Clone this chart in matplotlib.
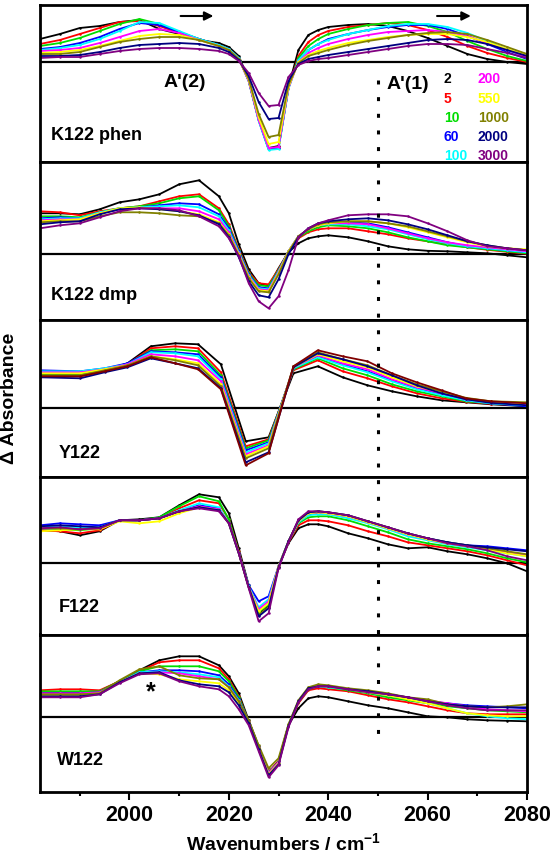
import matplotlib
matplotlib.use('Agg')
import matplotlib.pyplot as plt
import matplotlib.transforms as mtransforms
from matplotlib.lines import Line2D
from matplotlib.ticker import MultipleLocator

plt.rcParams['font.family'] = ['Liberation Sans', 'DejaVu Sans']
plt.rcParams['font.weight'] = 'bold'
plt.rcParams['mathtext.fontset'] = 'custom'
plt.rcParams['mathtext.rm'] = 'Liberation Sans:bold'
plt.rcParams['mathtext.default'] = 'rm'

# ---------------- data ----------------
delays = ['2', '5', '10', '60', '100', '200', '550', '1000', '2000', '3000']
colors = ['#000000', '#ff0000', '#00dd00', '#0000ff', '#00ffff',
          '#ff00ff', '#ffff00', '#808000', '#000080', '#800080']
colors_y122 = colors[:9] + ['#800000']

wn = [1982, 1986, 1990, 1994, 1998, 2002, 2006, 2010, 2014, 2018, 2020, 2022,
      2024, 2026, 2028, 2030, 2032, 2034, 2036, 2038, 2040, 2044, 2048, 2052,
      2056, 2060, 2064, 2068, 2072, 2076, 2080]
wn_y122 = [1982.0, 1990.1, 1995.0, 1999.6, 2004.3, 2009.2, 2013.8, 2018.4,
           2023.4, 2028.0, 2033.0, 2037.9, 2042.9, 2047.9, 2052.8, 2057.8,
           2062.8, 2067.7, 2072.7, 2080.0]

k122_phen = [
    [23, 28, 34, 36, 40, 42, 33, 28, 22, 19, 15, 6, -18, -57, -86, -84, -25, 12, 27, 32, 35, 37, 38, 36, 31, 24, 16, 8, 3, 0, -2],
    [18, 22, 28, 34, 40, 41, 36, 29, 23, 17, 13, 4, -19, -58, -87, -85, -26, 6, 20, 27, 31, 35, 37, 39, 37, 32, 25, 16, 9, 4, 0],
    [16, 19, 24, 31, 38, 43, 38, 30, 23, 17, 13, 4, -19, -58, -87, -86, -26, 4, 16, 23, 28, 33, 37, 39, 40, 36, 30, 21, 13, 6, 1],
    [13, 15, 19, 25, 33, 39, 37, 30, 23, 17, 13, 4, -19, -58, -87, -86, -26, 2, 12, 18, 23, 28, 32, 35, 37, 37, 33, 26, 18, 10, 3],
    [12, 14, 17, 23, 31, 40, 39, 31, 23, 17, 13, 4, -19, -59, -88, -87, -27, 2, 12, 18, 22, 28, 32, 36, 38, 38, 35, 29, 21, 12, 4],
    [11, 12, 14, 19, 25, 31, 33, 29, 22, 16, 12, 3, -19, -58, -86, -85, -26, 0, 9, 14, 18, 23, 27, 30, 31, 32, 30, 26, 19, 12, 5],
    [9, 10, 12, 16, 21, 26, 28, 27, 22, 16, 12, 3, -18, -55, -82, -80, -25, 0, 7, 11, 14, 19, 22, 25, 27, 28, 28, 25, 20, 13, 7],
    [8, 8, 10, 15, 20, 23, 25, 25, 22, 16, 12, 3, -17, -52, -75, -73, -23, -1, 6, 9, 12, 17, 21, 24, 27, 29, 30, 28, 22, 15, 8],
    [6, 6, 7, 10, 14, 17, 18, 19, 18, 14, 10, 2, -14, -40, -57, -56, -19, -2, 3, 5, 7, 10, 13, 16, 19, 22, 23, 22, 18, 12, 6],
    [4, 5, 5, 8, 11, 13, 14, 14, 13, 11, 8, 1, -11, -31, -44, -43, -15, -3, 1, 3, 4, 7, 10, 13, 16, 18, 18, 17, 13, 9, 4],
]

k122_dmp = [
    [41, 41, 40, 45, 52, 55, 60, 70, 74, 58, 41, 10, -15, -29, -32, -14, 2, 11, 16, 18, 19, 17, 13, 8, 5, 3.5, 3, 2, 1, -1, -3],
    [43, 42, 39, 43, 46, 48, 53, 58, 60, 46, 30, 5, -18, -29, -30, -15, 3, 16, 22, 25, 26, 26, 23, 20, 16, 13, 10, 7, 4.5, 2.5, 0.5],
    [38, 38, 37, 42, 46, 48, 51, 56, 58, 44, 28, 4, -19, -31, -32, -16, 3, 17, 23, 27, 29, 28, 26, 22, 17, 13, 9, 7, 5, 3, 1],
    [36, 37, 36, 41, 45, 47, 49, 51, 50, 40, 26, 3, -20, -33, -34, -17, 3, 18, 25, 29, 31, 32, 31, 27, 22, 17, 12, 8, 6, 4, 2],
    [35, 36, 36, 42, 46, 47, 48, 49, 47, 38, 24, 2, -21, -34, -35, -17, 3, 18, 25, 29, 30, 30, 28, 25, 20, 15, 11, 8, 6, 4, 2],
    [34, 35, 35, 41, 45, 46, 46, 46, 43, 35, 22, 1, -22, -35, -36, -18, 3, 18, 25, 29, 31, 31, 30, 26, 21, 16, 12, 9, 7, 5, 3],
    [33, 34, 35, 41, 46, 47, 45, 43, 40, 32, 20, 0, -23, -36, -37, -19, 3, 18, 25, 29, 31, 33, 33, 31, 27, 22, 17, 12, 8, 6, 5],
    [32, 33, 33, 38, 42, 42, 41, 39, 38, 31, 19, -1, -24, -37, -38, -20, 2, 18, 25, 30, 32, 33, 33, 31, 28, 23, 18, 13, 9, 6, 4],
    [30, 32, 33, 40, 45, 46, 45, 43, 39, 30, 17, -3, -27, -41, -43, -25, 0, 17, 26, 31, 33, 35, 36, 34, 30, 25, 19, 13, 9, 6, 4],
    [26, 29, 31, 37, 43, 46, 46, 44, 38, 28, 16, -2, -29, -47, -54, -42, -16, 17, 26, 31, 34, 39, 40, 40, 38, 31, 23, 14, 8, 6, 4],
]

y122 = [
    [33, 33, 38, 45, 62, 65, 64, 44, -33, -29, 35, 42, 31, 23, 17, 12, 8, 6, 4, 2],
    [32, 32, 37, 44, 60, 62, 60, 36, -38, -31, 38, 48, 37, 30, 22, 15, 10, 6.5, 4.5, 3],
    [34, 34, 38, 44, 58, 59, 57, 33, -40, -32, 39, 50, 40, 33, 24, 17, 12, 7, 5, 3],
    [38, 37, 40, 45, 57, 56, 54, 31, -42, -34, 40, 52, 44, 37, 28, 20, 14, 8, 5, 2],
    [37, 37, 40, 44, 56, 55, 52, 29, -44, -35, 40, 51, 43, 36, 27, 19, 13, 8, 5, 3],
    [36, 36, 39, 44, 54, 52, 48, 27, -46, -37, 41, 53, 45, 39, 29, 21, 15, 9, 6, 4],
    [35, 35, 39, 43, 52, 49, 45, 24, -48, -38, 41, 54, 47, 41, 31, 22, 16, 10, 6.5, 5],
    [33, 33, 38, 43, 52, 48, 43, 22, -50, -40, 42, 56, 49, 43, 33, 24, 17, 10.5, 7, 6],
    [31, 30, 36, 41, 50, 45, 40, 20, -54, -44, 41, 55, 49, 42, 33, 23, 15, 9, 5.5, 3],
    [32, 32, 37, 42, 51, 45, 39, 19, -57, -45, 42, 58, 52, 47, 35, 26, 18, 10, 7, 5],
]

f122 = [
    [33, 32, 28, 32, 43, 44, 46, 58, 69, 66, 50, 15, -22, -50, -42, -3, 20, 35, 39, 39, 37, 30, 25, 19, 15, 16, 12, 9, 5, 0, -8],
    [33, 32, 30, 33, 43, 43, 45, 55, 63, 60, 44, 12, -23, -49, -41, -3, 21, 38, 43, 43, 42, 38, 32, 27, 21, 18, 15, 12, 8, 3, -2],
    [35, 34, 33, 35, 43, 43, 46, 57, 67, 62, 44, 11, -24, -49, -41, -3, 22, 40, 46, 47, 47, 43, 37, 31, 24, 20, 17, 14, 10, 5, 1],
    [38, 40, 39, 38, 43, 43, 45, 52, 58, 55, 40, 10, -22, -38, -33, -3, 22, 41, 49, 50, 50, 47, 41, 35, 29, 25, 21, 18, 17, 15, 13],
    [36, 37, 36, 36, 43, 43, 45, 53, 60, 56, 40, 10, -23, -44, -36, -3, 22, 41, 48, 49, 49, 45, 40, 34, 27, 23, 19, 16, 13, 10, 7],
    [35, 35, 34, 35, 43, 43, 45, 52, 57, 54, 40, 10, -24, -46, -38, -3, 22, 42, 50, 51, 50, 47, 41, 35, 29, 24, 20, 17, 14, 11, 8],
    [32, 33, 34, 34, 42, 40, 42, 50, 56, 53, 40, 10, -24, -48, -40, -3, 22, 42, 50, 51, 50, 47, 41, 35, 29, 24, 20, 17, 14, 10, 7],
    [35, 35, 34, 35, 43, 43, 45, 52, 56, 53, 40, 10, -24, -52, -44, -4, 22, 43, 51, 52, 51, 48, 42, 36, 30, 25, 21, 18, 15, 12, 9],
    [37, 38, 37, 36, 43, 43, 45, 52, 56, 53, 40, 10, -24, -53, -45, -4, 22, 43, 51, 52, 51, 48, 42, 36, 30, 25, 21, 18, 16, 14, 12],
    [35, 36, 34, 35, 43, 43, 45, 52, 55, 52, 40, 10, -25, -58, -50, -5, 21, 44, 52, 52, 51, 48, 42, 36, 30, 25, 20, 17, 13, 7, 3],
]

w122 = [
    [25, 25, 25, 26, 36, 47, 57, 61, 61, 52, 41, 24, -3, -29, -55, -44, -8, 9, 19, 21, 20, 16, 12, 9, 5, 1, 0, -2, -3, -3.5, -4],
    [27, 28, 28, 27, 36, 46, 55, 57, 57, 49, 38, 21, -4, -30, -55, -44, -8, 14, 27, 29, 28, 26, 22, 18, 15, 11, 7, 4, 3, 3, 3],
    [26, 26, 26, 26, 36, 46, 51, 51, 51, 46, 36, 20, -4, -30, -56, -45, -8, 15, 28, 31, 30, 27, 24, 20, 17, 14, 11, 9, 7, 6, 5],
    [24, 24, 24, 25, 35, 45, 47, 47, 46, 42, 33, 18, -4, -30, -56, -45, -8, 16, 29, 31, 31, 28, 25, 22, 19, 16, 14, 12, 11, 10, 9],
    [23, 23, 23, 24, 35, 45, 46, 45, 43, 40, 31, 17, -4, -30, -56, -45, -8, 16, 29, 31, 30, 28, 25, 22, 19, 14, 9, 4, 1, -1, -2],
    [24, 24, 24, 25, 35, 44, 45, 44, 41, 38, 30, 16, -4, -30, -56, -45, -8, 16, 29, 31, 31, 28, 26, 23, 20, 17, 14, 11, 8, 7, 6],
    [22, 22, 22, 24, 35, 44, 43, 38, 36, 34, 27, 14, -5, -31, -57, -46, -8, 16, 29, 31, 31, 28, 25, 22, 18, 14, 9, 4, 2, 1, 1],
    [23, 23, 23, 24, 37, 48, 51, 42, 39, 38, 30, 16, -3, -28, -51, -41, -7, 17, 30, 33, 32, 29, 27, 24, 20, 18, 13, 11, 10, 11, 13],
    [21, 21, 21, 23, 35, 44, 45, 37, 33, 31, 25, 12, -6, -32, -58, -47, -9, 16, 29, 31, 31, 28, 26, 23, 20, 16, 13, 11, 10, 10, 10],
    [20, 20, 20, 23, 34, 43, 44, 36, 31, 28, 21, 8, -8, -34, -60, -48, -10, 15, 28, 31, 31, 28, 25, 23, 20, 16, 12, 9, 7, 7, 7],
]

panel_names = ['K122 phen', 'K122 dmp', 'Y122', 'F122', 'W122']
panel_data = [k122_phen, k122_dmp, y122, f122, w122]
panel_x = [wn, wn, wn_y122, wn, wn]
panel_colors = [colors, colors, colors_y122, colors, colors]

# ---------------- layout ----------------
W, H = 553, 857
fig = plt.figure(figsize=(W / 100, H / 100), dpi=100)
axes = fig.subplots(5, 1, sharex=True)
fig.subplots_adjust(left=40 / W, right=527 / W, top=1 - 4.5 / H,
                    bottom=1 - 792 / H, hspace=0)

ylims = [(-100, 57.5), (-65.2, 92.3), (-68.7, 88.8), (-71.2, 86.3), (-74.7, 82.8)]
label_pos = [(1984.3, -77.5), (1984.3, -45.5), (1985.7, -49.5),
             (1985.7, -48.5), (1985.4, -47.5)]

for ax, name, data, xs, cols, yl, lp in zip(axes, panel_names, panel_data,
                                              panel_x, panel_colors, ylims, label_pos):
    ax.axhline(0, color='black', lw=1.6, zorder=1)
    for ys, c in zip(data, cols):
        ax.plot(xs, ys, color=c, lw=1.3, marker='o', ms=1.8, mew=0, zorder=2)
    ax.set_xlim(1982, 2080)
    ax.set_ylim(*yl)
    ax.set_yticks([])
    ax.set_xticks([2000, 2020, 2040, 2060, 2080])
    ax.xaxis.set_minor_locator(MultipleLocator(10))
    ax.tick_params(axis='x', which='major', direction='out', length=5.5,
                   width=1.5, labelsize=15.5, pad=4)
    ax.tick_params(axis='x', which='minor', direction='out', length=3, width=1.5)
    for sp in ax.spines.values():
        sp.set_linewidth(2.0)
    ax.text(lp[0], lp[1], name, fontsize=13, fontweight='bold', ha='left',
            va='baseline')

for lab in axes[-1].get_xticklabels():
    lab.set_fontweight('bold')

ax1 = axes[0]
ax1.text(2011.2, -25, "A'(2)", fontsize=14, fontweight='bold', ha='center', va='baseline')
ax1.text(2056.1, -27, "A'(1)", fontsize=14, fontweight='bold', ha='center', va='baseline')
for x0, x1 in [(2010.3, 2016.9), (2061.9, 2068.7)]:
    ax1.annotate('', xy=(x1, 46), xytext=(x0, 46),
                 arrowprops=dict(arrowstyle='-|>', color='black', lw=1.5,
                                 mutation_scale=13, shrinkA=0, shrinkB=0))

axes[-1].text(2004.3, 18, '*', fontsize=18, fontweight='bold', ha='center', va='baseline')

# legend of delays
rows_y = [78.3, 97.7, 116.7, 136, 155]
for i, (d, c) in enumerate(zip(delays, colors)):
    col, row = divmod(i, 5)
    xpx = 444 if col == 0 else 478
    fig.text(xpx / W, 1 - (rows_y[row] + 5) / H, d, color=c, fontsize=10,
             fontweight='bold', ha='left', va='baseline')

# dotted vertical line at 2050 spanning panels
trans = mtransforms.blended_transform_factory(axes[-1].transData, fig.transFigure)
fig.add_artist(Line2D([2050, 2050], [1 - 80 / H, 1 - 738 / H], transform=trans,
                      color='black', lw=2.2, linestyle=(0, (1.3, 4.15)),
                      dash_capstyle='butt'))

fig.text(283.5 / W, 1 - 850 / H, r'Wavenumbers / cm$^{-1}$', fontsize=14,
         fontweight='bold', ha='center', va='baseline')
fig.text(10 / W, 1 - 398 / H, '\u0394 Absorbance', fontsize=14, fontweight='bold',
         rotation=90, ha='center', va='center')

fig.savefig('out.png', dpi=100)
